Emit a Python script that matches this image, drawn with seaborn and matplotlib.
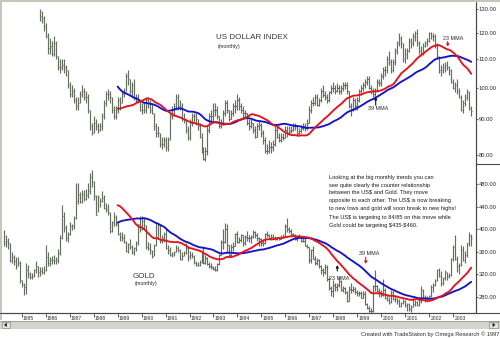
import numpy as np
import pandas as pd
import matplotlib
matplotlib.use("Agg")
import matplotlib.pyplot as plt
import matplotlib.ticker as mticker
import matplotlib.transforms as mtrans
from matplotlib.lines import Line2D
from matplotlib.patches import Rectangle, Polygon, FancyArrowPatch
import seaborn as sns

# ---------------------------------------------------------------- data
# US Dollar Index, monthly bars from Oct 1985 to Oct 2003
usd_close = [
    127, 126, 123,
    119, 114, 115, 112, 116, 111, 107, 107, 108, 107, 106, 101,
    98, 99, 96, 94, 95, 98, 99, 97, 97, 93, 88, 86,
    89, 88, 87, 88, 91, 95, 98, 98, 97, 93, 91, 93,
    96, 95, 98, 99, 104, 103, 99, 101, 97, 97, 96, 93,
    93, 93, 96, 95, 93, 92, 88, 86, 86, 83, 83, 84,
    82, 84, 91, 92, 94, 97, 94, 94, 90, 90, 87, 85,
    89, 91, 91, 90, 88, 85, 81, 79, 81, 87, 91, 91,
    93, 93, 91, 88, 89, 92, 95, 93, 90, 92, 94, 94,
    96, 94, 93, 92, 92, 89, 88, 89, 87, 85, 88, 88.5,
    86, 84, 81, 81, 82, 82, 83, 87, 85, 84, 85, 84.5,
    87, 86, 86.5, 87, 88, 88, 86, 86.5, 87.5, 88, 87.5, 89,
    93, 95, 95, 97, 94.5, 96, 99, 97.5, 97, 96, 98.5, 100,
    100, 99, 100, 99, 100, 101, 101, 99, 94, 93, 96, 94,
    96, 99, 100, 101, 102, 103, 100, 99, 98, 99, 102, 101.5,
    104, 106, 106, 110, 109, 106, 109, 113, 116, 118, 116, 110,
    112, 113, 117, 116, 119, 120, 116, 113, 112, 115, 116, 117,
    120, 119, 119, 115, 111, 106, 106, 107, 108, 107, 106, 102,
    100, 101, 99, 97, 93, 95, 97, 98.5, 93.5, 92.5,
]
usd_high = [
    130, 129, 127,
    124, 120, 118, 117, 119, 117, 111, 110, 110, 110, 108, 106,
    102, 101, 100, 97, 97, 99, 101, 100, 99, 98, 93, 89,
    91, 90, 89, 89, 92, 96, 99, 99.5, 99, 97, 94, 94,
    97, 97, 99, 100, 105, 106, 103, 102, 103, 98, 98, 96,
    95, 95, 97, 97, 96, 95, 92, 89, 88, 86, 85, 85,
    85, 85, 92, 94, 95, 98, 98, 96, 95, 92, 90, 88,
    90, 92, 92, 92, 90, 89, 86, 82, 82, 88, 92, 93,
    95, 95, 94, 91, 90, 93, 96, 96, 93, 93, 95, 96,
    97.8, 97, 95, 94, 93, 92, 90, 90, 89, 88, 89, 89.5,
    89, 87, 85, 83, 84, 83.5, 84, 88, 88, 86, 86, 86,
    88, 88, 88, 88, 89, 89, 88.5, 87.5, 88.5, 89, 89, 90,
    94, 96, 97, 98, 98, 96.5, 100, 101, 99, 98, 99, 101,
    102, 101, 101.5, 101, 101, 102, 102, 102, 99, 95, 97, 96.5,
    97, 99.5, 101, 102, 103, 104, 104, 101, 100, 100, 103, 103,
    105, 107, 107.5, 111, 113, 110, 110, 114, 117, 120, 119, 116,
    114, 114, 118, 118, 120, 121, 121.5, 117, 115, 116, 117, 118,
    120.5, 120.5, 120, 119.5, 116, 111, 108, 108.5, 109, 109.5, 107.5, 106.5,
    103, 102, 103, 100, 97.5, 96, 98, 99.5, 99, 94,
]
usd_low = [
    125, 124, 121,
    118, 112, 112, 111, 111, 110, 106, 105, 106, 105, 104, 100,
    97, 97, 95, 93, 93, 95, 97, 96, 95, 92, 87, 85.5,
    86, 87, 86, 86.5, 87, 90, 94, 96, 95, 92, 90, 90,
    92, 93, 95, 97, 99, 101, 98, 97, 96, 95, 95, 92.5,
    91.5, 92, 92, 93.5, 92, 91.5, 87, 85, 85, 82, 81.5, 82,
    81, 81, 84, 90, 91, 93, 93, 93, 89.5, 89, 86, 84,
    84, 88, 89, 88.5, 87, 84.5, 80.5, 78.7, 78.5, 80, 86, 89,
    89, 91, 90, 87.5, 87.5, 88.5, 91, 92, 89.5, 90, 91, 92,
    93, 93, 92, 90.5, 90, 88.5, 87, 87.5, 86, 84.5, 85, 87,
    85, 83, 80.5, 80.2, 80.5, 80.5, 81, 82.5, 84.5, 83.5, 83.5, 84,
    84.5, 85, 85.5, 86, 86.5, 87, 85.5, 85.5, 86, 87, 86.5, 87,
    89, 92, 94, 94.5, 94, 94, 95.5, 97, 96, 95, 95.5, 98,
    98.5, 98, 98.5, 98, 98, 99, 99.5, 98, 93.5, 91, 92.5, 93,
    93, 95.5, 97.5, 99, 100, 101, 99.5, 98, 97, 97, 98.5, 100.5,
    100.5, 103, 104, 105, 108, 105, 105.5, 108, 112, 115, 114, 109,
    108.5, 110, 112.5, 114, 115, 117, 115, 112, 111, 111.5, 114.5, 115,
    116.5, 117.5, 117, 114, 110.5, 105, 104, 105, 105.5, 106, 104.5, 101.5,
    99.5, 98.5, 98, 96.5, 92.5, 92, 94, 96, 93, 91,
]

# Gold, monthly bars from Apr 1984 to Oct 2003
gold_close = [
    375, 380, 375, 345, 350, 343, 335, 340, 310,
    303, 298, 328, 320, 316, 317, 327, 334, 325, 326, 325, 327,
    350, 340, 345, 346, 343, 346, 358, 385, 423, 402, 384, 391,
    405, 406, 420, 450, 460, 448, 462, 453, 460, 468, 492, 484,
    458, 426, 457, 450, 455, 437, 435, 430, 396, 412, 422, 410,
    392, 387, 385, 378, 362, 373, 368, 359, 366, 375, 409, 401,
    415, 407, 368, 367, 363, 352, 372, 387, 408, 380, 384, 391,
    367, 363, 355, 357, 360, 366, 363, 347, 353, 358, 367, 353,
    354, 353, 341, 336, 337, 342, 357, 340, 349, 339, 334, 333,
    329, 328, 339, 355, 377, 377, 401, 372, 355, 369, 371, 391,
    378, 381, 390, 376, 387, 385, 385, 386, 395, 389, 384, 383,
    375, 376, 392, 390, 385, 387, 383, 383, 384, 383, 387, 387,
    405, 400, 396, 392, 390, 382, 385, 387, 379, 379, 371, 369,
    345, 364, 348, 340, 345, 334, 327, 325, 333, 311, 296, 290,
    302, 297, 301, 309, 293, 296, 288, 273, 294, 292, 294, 288,
    287, 287, 279, 286, 268, 261, 255, 255, 299, 300, 291, 289,
    283, 293, 278, 275, 272, 288, 276, 277, 273, 264, 269, 273,
    266, 267, 258, 263, 267, 271, 266, 273, 292, 279, 275, 278,
    282, 297, 302, 309, 327, 318, 305, 313, 324, 317, 319, 347,
    368, 348, 334, 336, 364, 346, 354, 375, 388, 385,
]
gold_high = [
    399, 390, 385, 376, 360, 355, 350, 350, 343,
    310, 305, 340, 336, 324, 322, 330, 343, 335, 333, 333, 335,
    372, 360, 350, 352, 355, 350, 365, 390, 443, 430, 408, 395,
    412, 410, 423, 482, 482, 465, 470, 470, 472, 482, 500, 505,
    485, 460, 460, 455, 467, 460, 446, 445, 430, 414, 430, 425,
    412, 395, 395, 392, 380, 375, 383, 372, 368, 380, 410, 423,
    423, 420, 408, 378, 375, 363, 373, 411, 411, 410, 390, 395,
    403, 372, 368, 360, 362, 372, 370, 365, 360, 362, 376, 368,
    362, 359, 354, 343, 342, 345, 362, 370, 354, 350, 342, 340,
    335, 335, 340, 357, 381, 400, 411, 409, 372, 373, 378, 393,
    396, 387, 392, 390, 389, 396, 389, 389, 399, 396, 394, 387,
    384, 382, 393, 397, 391, 392, 391, 388, 387, 387, 389, 392,
    410, 420, 404, 400, 394, 392, 388, 392, 388, 386, 384, 373,
    368, 365, 370, 352, 349, 348, 337, 332, 339, 337, 315, 300,
    310, 304, 305, 317, 310, 300, 297, 290, 300, 305, 300, 298,
    293, 291, 290, 291, 290, 270, 264, 260, 302, 328, 302, 296,
    293, 312, 296, 285, 280, 292, 290, 282, 279, 276, 272, 276,
    274, 270, 270, 265, 278, 275, 273, 278, 300, 294, 283, 281,
    284, 302, 304, 311, 330, 332, 326, 316, 327, 325, 322, 349,
    372, 390, 352, 340, 372, 370, 362, 376, 395, 392,
]
gold_low = [
    370, 368, 365, 342, 340, 336, 330, 335, 305,
    298, 284, 286, 314, 312, 312, 315, 322, 315, 318, 320, 320,
    326, 335, 335, 338, 338, 338, 340, 355, 382, 395, 380, 378,
    390, 398, 400, 418, 445, 446, 447, 450, 452, 455, 462, 475,
    452, 425, 430, 440, 448, 435, 430, 425, 393, 395, 405, 405,
    390, 380, 380, 375, 360, 358, 365, 356, 355, 361, 372, 395,
    398, 400, 365, 363, 357, 349, 352, 370, 383, 376, 375, 377,
    365, 357, 352, 350, 352, 359, 360, 346, 345, 352, 356, 343,
    348, 349, 338, 334, 334, 335, 341, 338, 338, 337, 332, 330,
    327, 326, 326, 337, 354, 365, 375, 360, 350, 352, 362, 370,
    375, 375, 378, 371, 372, 380, 378, 375, 384, 385, 380, 371,
    370, 371, 374, 387, 382, 383, 382, 381, 381, 381, 382, 385,
    387, 395, 393, 389, 388, 381, 380, 384, 377, 377, 370, 366,
    340, 340, 347, 337, 337, 332, 320, 318, 320, 308, 293, 281,
    280, 290, 291, 298, 290, 288, 286, 271, 273, 287, 289, 285,
    282, 282, 278, 278, 266, 258, 253, 252, 254, 290, 288, 280,
    280, 282, 276, 273, 268, 270, 275, 272, 268, 263, 263, 268,
    263, 255, 256, 254, 262, 264, 264, 264, 270, 277, 272, 271,
    276, 280, 289, 300, 308, 315, 300, 302, 310, 310, 314, 317,
    344, 345, 325, 320, 334, 343, 340, 350, 370, 370,
]

usd_ticks = [80, 90, 100, 110, 120, 130]
gold_ticks = [280, 320, 360, 400, 440, 480]
years = list(range(1985, 2004))

note_lines = [
    "Looking at the big monthly trends you can",
    "see quite clearly the counter relationship",
    "between the US$ and Gold. They move",
    "opposite to each other. The US$ is now breaking",
    "to new lows and gold will soon break to new highs!",
]
target_lines = [
    "The US$ is targeting to 84/85 on this move while",
    "Gold could be targeting $435-$460.",
]

# ---------------------------------------------------------------- style
sns.set_style("white")
plt.rcParams["font.family"] = ["Liberation Sans", "DejaVu Sans"]

BAR = "#646f5f"
RED = "#e3141c"
BLUE = "#1414cc"
AXC = "#4a4a4a"
TXT = "#2a2a2a"

W, H = 500, 338
fig = plt.figure(figsize=(W / 100, H / 100), dpi=100, facecolor="white")


def fx(px):
    return px / W


def fy(py):
    return 1 - py / H


def label(x, y, s, **kw):
    kw.setdefault("ha", "left")
    kw.setdefault("va", "center")
    return fig.text(fx(x), fy(y), s, parse_math=False, **kw)


ax_top = fig.add_axes([fx(3), fy(164), fx(473), 161 / H])
ax_bot = fig.add_axes([fx(3), fy(313), fx(473), 149 / H])


def month_positions(start, n):
    p = pd.period_range(start, periods=n, freq="M")
    return np.asarray(p.year + (p.month - 1) / 12.0, dtype=float)


def frame(close, start):
    df = pd.DataFrame({"t": month_positions(start, len(close)),
                       "close": np.asarray(close, dtype=float)})
    df["ma23"] = df["close"].rolling(23).mean()
    df["ma39"] = df["close"].rolling(39).mean()
    return df


def draw_panel(ax, df, high, low):
    ax.vlines(df["t"], low, high, color=BAR, lw=0.85)
    ax.hlines(df["close"], df["t"], df["t"] + 0.05, color=BAR, lw=0.75)
    shown = df[df["t"] >= 1989]
    sns.lineplot(data=shown, x="t", y="ma39", ax=ax, color=BLUE, lw=1.35,
                 legend=False)
    sns.lineplot(data=shown, x="t", y="ma23", ax=ax, color=RED, lw=1.35,
                 legend=False)
    ax.set_xlabel("")
    ax.set_ylabel("")


usd = frame(usd_close, "1985-10")
gold = frame(gold_close, "1984-04")
draw_panel(ax_top, usd, usd_high, usd_low)
draw_panel(ax_bot, gold, gold_high, gold_low)

fmt = mticker.FuncFormatter(lambda v, _: f"{v:.2f}")
for ax in (ax_top, ax_bot):
    ax.set_facecolor("white")
    ax.set_xlim(1984.22, 2003.95)
    for s in ax.spines.values():
        s.set_visible(False)
    ax.spines["right"].set_visible(True)
    ax.spines["right"].set_color(AXC)
    ax.spines["right"].set_linewidth(0.8)
    ax.yaxis.tick_right()
    ax.tick_params(axis="y", which="major", direction="out", length=1.6,
                   width=0.6, color=AXC, labelsize=4.2, pad=0.4,
                   labelcolor=TXT, right=True, left=False)
    ax.grid(False)

ax_top.set_yscale("log")
ax_top.set_ylim(77.6, 132.6)
ax_top.yaxis.set_major_locator(mticker.FixedLocator(usd_ticks))
ax_top.yaxis.set_major_formatter(fmt)
ax_top.yaxis.set_minor_locator(mticker.NullLocator())
ax_top.set_xticks([])

ax_bot.set_ylim(251.7, 515.4)
ax_bot.yaxis.set_major_locator(mticker.FixedLocator(gold_ticks))
ax_bot.yaxis.set_major_formatter(fmt)
ax_bot.set_xticks(years)
ax_bot.set_xticklabels([str(y) for y in years])
ax_bot.spines["bottom"].set_visible(True)
ax_bot.spines["bottom"].set_color(AXC)
ax_bot.spines["bottom"].set_linewidth(0.8)
ax_bot.tick_params(axis="x", direction="out", length=3, width=0.6,
                   color=AXC, labelsize=3.6, pad=-0.7, labelcolor=TXT,
                   bottom=True)
shift = mtrans.ScaledTranslation(1.2 / 100, 0, fig.dpi_scale_trans)
for lab in ax_bot.get_xticklabels():
    lab.set_ha("left")
    lab.set_transform(lab.get_transform() + shift)

# ---------------------------------------------------------------- chrome
border = "#c3c9ba"
fig.add_artist(Rectangle((0, fy(320)), fx(2.2), fy(0) - fy(320),
                         transform=fig.transFigure, color=border, lw=0))
fig.add_artist(Rectangle((0, fy(2.2)), 1, 1 - fy(2.2),
                         transform=fig.transFigure, color=border, lw=0))
fig.add_artist(Line2D([fx(476), fx(476)], [fy(2), fy(313)],
                      transform=fig.transFigure, color=AXC, lw=0.8))
fig.add_artist(Line2D([fx(476), 1], [fy(164), fy(164)],
                      transform=fig.transFigure, color=AXC, lw=0.8))
fig.add_artist(Line2D([0, 1], [fy(313), fy(313)],
                      transform=fig.transFigure, color=AXC, lw=0.8))

# scroll bar strip
fig.add_artist(Rectangle((0, fy(328.5)), 1, fy(321) - fy(328.5),
                         transform=fig.transFigure, facecolor="#d6d3cc",
                         edgecolor="none"))
fig.add_artist(Line2D([0, 1], [fy(321), fy(321)], transform=fig.transFigure,
                      color="#8c8c8c", lw=0.5))
for x0, pts in ((1.5, [(6.8, 322.8), (6.8, 327.0), (4.0, 324.9)]),
                (489.0, [(492.6, 322.8), (492.6, 327.0), (495.4, 324.9)])):
    fig.add_artist(Rectangle((fx(x0), fy(328)), fx(8.5), fy(321.8) - fy(328),
                             transform=fig.transFigure, facecolor="#e4e1da",
                             edgecolor="#7a7a7a", lw=0.4))
    fig.add_artist(Polygon([(fx(a), fy(b)) for a, b in pts], closed=True,
                           transform=fig.transFigure, color="#111111", lw=0))

label(499, 334, "Created with TradeStation by Omega Research \u00a9 1997",
      ha="right", fontsize=4.1, color=TXT)

# ---------------------------------------------------------------- labels
label(216, 37.8, "US DOLLAR INDEX", fontsize=5.8, color="#3a3a3a")
label(218, 46.3, "(monthly)", fontsize=3.9, color=TXT)
label(133, 276, "GOLD", fontsize=5.8, color="#3a3a3a")
label(135, 283, "(monthly)", fontsize=3.9, color=TXT)


def mma_label(text, x, y, arrow_color, tail, tip):
    label(x, y, text, fontsize=3.9, color=TXT, zorder=0.5)
    fig.add_artist(FancyArrowPatch(
        (fx(tail[0]), fy(tail[1])), (fx(tip[0]), fy(tip[1])),
        transform=fig.transFigure, arrowstyle="-|>", mutation_scale=3.5,
        color=arrow_color, lw=0.8, shrinkA=0, shrinkB=0))


mma_label("23 MMA", 443.3, 38.0, RED, (447.7, 41.5), (447.7, 46.8))
mma_label("39 MMA", 368.3, 108.7, "#111111", (375.7, 105.2), (375.7, 96.8))
mma_label("39 MMA", 359.3, 253.7, RED, (365.7, 257.2), (365.7, 264.0))
mma_label("23 MMA", 329.0, 278.2, "#111111", (337.3, 271.0), (337.3, 265.0))

for i, line in enumerate(note_lines):
    label(329, 177.3 + i * 7.75, line, fontsize=4.1, color="#1a1a1a")
for i, line in enumerate(target_lines):
    label(329, 217.7 + i * 7.6, line, fontsize=4.1, color="#1a1a1a")

fig.savefig("out.png", dpi=100, facecolor="white")
